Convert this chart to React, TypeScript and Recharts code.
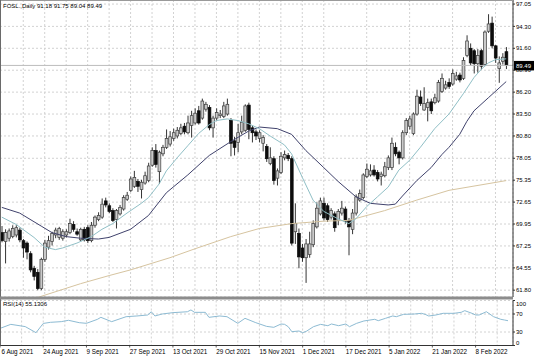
import React from "react";
import { ComposedChart, Bar, Line, XAxis, YAxis, CartesianGrid, ReferenceLine } from "recharts";

const FONT = "'Liberation Sans', Arial, sans-serif";

// tick labels
const dateLabels = [
  "6 Aug 2021", "24 Aug 2021", "9 Sep 2021", "27 Sep 2021", "13 Oct 2021", "29 Oct 2021",
  "15 Nov 2021", "1 Dec 2021", "17 Dec 2021", "5 Jan 2022", "21 Jan 2022", "8 Feb 2022",
];
const priceTicks = [61.8, 64.55, 67.25, 69.95, 72.65, 75.35, 78.05, 80.8, 83.5, 86.2, 88.9, 91.6, 94.3, 97.05];
const rsiTicks = [0, 30, 70, 100];

// daily candles
const opens = [
  68.9, 67.8, 68.2, 68.4, 68.6, 69.2, 67.9, 67.6, 66.3, 64.5,
  64.0, 62.0, 65.6, 67.1, 67.8, 68.6, 68.3, 68.2, 68.6, 68.9,
  69.9, 69.0, 68.0, 69.3, 69.5, 67.9, 69.8, 70.5, 70.8, 72.8,
  72.2, 71.6, 70.5, 71.2, 71.8, 73.0, 74.1, 74.6, 75.2, 74.2,
  75.0, 75.3, 77.2, 79.0, 76.4, 78.6, 79.4, 79.8, 80.5, 80.8,
  81.1, 82.0, 81.2, 82.1, 82.4, 83.9, 83.0, 84.1, 84.3, 81.8,
  83.0, 83.3, 83.2, 83.5, 82.7, 80.2, 80.0, 81.3, 81.5, 84.6,
  81.8, 81.3, 80.5, 79.9, 79.5, 77.4, 78.0, 75.6, 76.3, 78.1,
  78.4, 78.0, 69.0, 68.8, 67.0, 65.8, 66.2, 67.4, 69.6, 71.2,
  72.5, 72.2, 70.8, 71.2, 70.4, 71.3, 71.8, 70.4, 69.3, 71.3,
  72.9, 73.2, 75.8, 76.0, 76.6, 76.3, 75.8, 75.9, 76.9, 76.9,
  79.4, 78.8, 78.1, 81.2, 82.0, 81.1, 83.5, 85.6, 84.0, 84.3,
  85.0, 84.9, 85.1, 86.3, 86.7, 87.4, 87.2, 87.8, 88.3, 87.9,
  90.7, 91.6, 91.3, 89.7, 91.3, 89.6, 93.7, 94.7, 91.9, 89.1,
  90.0, 91.18,
];
const highs = [
  69.7, 69.3, 69.4, 69.8, 69.8, 69.5, 68.1, 67.8, 66.6, 64.8,
  64.4, 65.8, 68.0, 68.5, 69.0, 69.5, 69.6, 69.3, 69.3, 70.6,
  70.3, 69.4, 69.5, 69.6, 69.8, 70.2, 71.0, 71.4, 73.1, 73.2,
  72.5, 71.9, 71.8, 72.3, 73.5, 73.9, 75.8, 76.5, 75.5, 75.4,
  76.4, 77.5, 79.4, 79.8, 79.0, 79.7, 81.6, 81.4, 81.7, 81.9,
  82.3, 82.4, 83.3, 83.9, 84.2, 84.5, 85.4, 85.0, 84.6, 83.3,
  84.2, 84.0, 85.0, 85.4, 83.0, 80.7, 82.3, 83.3, 84.7, 84.9,
  82.1, 81.6, 81.5, 80.9, 79.8, 79.4, 78.3, 76.8, 78.8, 79.0,
  78.7, 78.3, 72.5, 69.4, 67.5, 68.1, 69.0, 70.4, 72.6, 73.2,
  73.2, 72.5, 71.9, 71.5, 71.8, 72.8, 72.1, 70.7, 71.8, 73.6,
  74.2, 76.2, 77.4, 77.3, 77.2, 76.6, 76.4, 77.6, 78.4, 80.6,
  80.0, 79.0, 81.5, 83.0, 83.3, 83.7, 86.5, 86.4, 86.8, 85.4,
  85.4, 86.0, 87.7, 88.5, 87.6, 87.9, 89.0, 88.7, 88.6, 90.5,
  93.2, 92.2, 91.5, 91.5, 91.5, 93.8, 95.8, 95.5, 92.0, 90.6,
  91.0, 91.75,
];
const lows = [
  67.7, 65.1, 67.8, 68.2, 68.3, 67.7, 65.8, 65.6, 64.0, 63.0,
  61.8, 61.8, 65.3, 66.8, 67.3, 68.2, 68.0, 67.9, 68.3, 68.7,
  69.0, 68.5, 67.8, 67.8, 67.6, 67.7, 69.5, 70.3, 70.6, 72.0,
  71.3, 70.2, 69.4, 71.0, 71.6, 72.8, 73.9, 74.4, 73.9, 73.1,
  74.8, 75.1, 77.0, 76.9, 74.9, 78.3, 79.2, 79.5, 80.2, 80.5,
  80.9, 81.0, 81.0, 80.6, 82.2, 82.2, 82.8, 83.8, 81.5, 80.6,
  82.7, 83.0, 83.0, 83.3, 78.3, 78.4, 78.8, 81.0, 81.3, 80.4,
  80.0, 80.3, 80.0, 78.9, 77.6, 77.2, 74.8, 74.7, 76.1, 77.8,
  77.7, 67.3, 67.5, 64.5, 65.3, 62.7, 65.8, 67.1, 69.4, 71.0,
  70.4, 70.2, 70.5, 69.0, 69.8, 71.0, 70.0, 66.1, 68.7, 71.0,
  72.7, 73.0, 75.6, 75.8, 75.8, 75.2, 74.7, 75.7, 76.6, 76.6,
  78.3, 77.3, 77.9, 80.9, 81.6, 80.9, 83.3, 84.5, 83.9, 82.6,
  83.5, 84.7, 84.9, 86.1, 86.5, 86.6, 87.0, 87.6, 87.4, 87.7,
  90.5, 89.5, 88.5, 88.6, 89.0, 89.4, 93.5, 91.6, 89.8, 87.35,
  89.6, 89.04,
];
const closes = [
  67.9, 68.9, 69.1, 69.4, 69.5, 68.0, 67.0, 66.5, 64.3, 63.5,
  62.0, 65.6, 67.6, 67.9, 68.8, 69.2, 69.4, 69.0, 69.0, 70.0,
  69.3, 68.7, 69.3, 68.0, 67.9, 69.8, 70.8, 71.0, 72.4, 72.3,
  71.5, 70.4, 71.6, 72.0, 73.2, 73.5, 75.5, 75.7, 74.6, 75.1,
  75.9, 77.1, 79.0, 77.3, 78.8, 79.4, 80.5, 80.7, 81.2, 81.5,
  81.8, 81.3, 82.4, 83.3, 83.6, 82.4, 85.1, 84.7, 81.8, 83.0,
  83.7, 83.5, 84.5, 84.7, 79.9, 79.4, 81.2, 82.5, 84.5, 81.6,
  81.2, 80.8, 81.2, 80.6, 78.0, 78.1, 75.3, 76.5, 78.3, 78.5,
  78.0, 67.6, 70.0, 65.9, 65.8, 67.5, 67.5, 70.0, 71.9, 72.8,
  70.7, 70.5, 71.6, 69.5, 71.5, 71.9, 70.3, 69.6, 71.3, 73.3,
  73.7, 76.0, 76.7, 76.5, 76.0, 75.5, 76.1, 77.0, 78.1, 79.9,
  78.6, 78.1, 81.2, 82.7, 82.9, 83.5, 85.7, 84.8, 84.8, 84.9,
  83.9, 85.5, 87.4, 87.9, 87.1, 86.9, 88.5, 88.2, 87.7, 90.1,
  92.5, 89.8, 89.7, 90.7, 89.4, 93.6, 94.6, 91.9, 90.4, 89.8,
  90.5, 89.49,
];

// moving averages and RSI, [bar, value] read at points along each line
const maFast: [number, number][] = [
  [0, 70.8], [4, 69.9], [9, 68.3], [12, 67.1], [15, 66.8], [17, 67.0], [21, 67.6], [25, 68.4],
  [28, 69.3], [31, 70.0], [35, 71.3], [39, 72.5], [41, 73.2], [44, 74.9], [46, 76.5], [49, 78.1],
  [52, 79.6], [55, 81.1], [58, 82.2], [60, 82.7], [63, 82.9], [66, 82.7], [69, 82.3], [72, 81.7],
  [75, 80.8], [79, 79.7], [81, 78.6], [84, 75.7], [87, 72.9], [90, 71.5], [94, 70.6], [97, 70.0],
  [99, 70.6], [102, 72.1], [105, 73.3], [108, 74.5], [111, 76.6], [114, 77.8], [117, 79.4],
  [121, 81.7], [125, 83.5], [129, 86.0], [132, 88.0], [134, 89.0], [136, 89.8], [138, 90.2], [141, 90.3],
];
const maSlow: [number, number][] = [
  [0, 72.0], [5, 71.3], [11, 69.7], [14, 68.9], [18, 68.4], [22, 68.2], [27, 68.1], [30, 68.3],
  [36, 69.3], [41, 71.0], [46, 73.8], [52, 76.0], [58, 78.4], [64, 80.1], [69, 81.4], [72, 81.9],
  [77, 81.7], [81, 81.0], [85, 79.0], [90, 76.9], [94, 75.2], [99, 73.3], [103, 72.5], [108, 72.3],
  [110, 72.4], [112, 73.4], [116, 75.3], [120, 76.9], [123, 78.5], [125, 79.4], [128, 81.0],
  [130, 82.6], [132, 83.9], [136, 85.5], [139, 86.7], [141, 87.5],
];
const ma200: [number, number][] = [
  [10, 60.9], [22, 62.6], [30, 63.6], [36, 64.3], [47, 65.8], [54, 66.9], [64, 68.4], [72, 69.4],
  [81, 70.0], [90, 70.3], [97, 70.4], [107, 71.6], [116, 72.9], [125, 74.1], [141, 75.3],
];
const rsi14: [number, number][] = [
  [0, 38], [3, 47], [7, 42], [10, 28.5], [12, 49], [14, 51.5], [17, 53], [19, 56], [22, 50.7],
  [24, 49.3], [27, 58], [28, 62.6], [31, 53], [35, 64], [38, 65.6], [41, 67.8], [42, 75], [43, 65.6],
  [45, 70], [48, 73], [52, 75], [53, 79], [54, 73.7], [57, 73.7], [58, 62.6], [61, 65.6], [63, 64],
  [66, 49.3], [68, 60.4], [71, 50.7], [74, 42.5], [76, 40.4], [78, 47.8], [79, 47], [80, 41.8],
  [81, 30.7], [83, 32.2], [84, 28.5], [85, 31.4], [87, 41.8], [89, 47], [91, 44], [92, 47.8],
  [94, 44], [96, 47.8], [97, 41.8], [99, 49.3], [101, 54.5], [104, 58.2], [105, 55.2], [107, 60.4],
  [109, 65.6], [110, 64], [112, 69.2], [115, 70], [117, 71.5], [118, 69.2], [119, 65.6], [121, 67.8],
  [123, 71.5], [126, 71.5], [128, 73.7], [129, 77.4], [131, 71.5], [132, 67.8], [133, 67.8],
  [135, 75.1], [137, 64], [139, 58.2], [140, 56.7], [141, 55.13],
];

const symbol = "FOSL.,Daily";
const lastBid = 89.49;
const rsiLast = "55.1306";

type Row = {
  idx: number; open: number; high: number; low: number; close: number;
  fast: number | null; slow: number | null; long: number | null; rsi: number | null;
};

const rows: Row[] = opens.map((o, i) => ({
  idx: i, open: o, high: highs[i], low: lows[i], close: closes[i],
  fast: null, slow: null, long: null, rsi: null,
}));
maFast.forEach(([i, v]) => { rows[i].fast = v; });
maSlow.forEach(([i, v]) => { rows[i].slow = v; });
ma200.forEach(([i, v]) => { rows[i].long = v; });
rsi14.forEach(([i, v]) => { rows[i].rsi = v; });

const gridTicks = rows.filter((r) => r.idx % 6 === 0).map((r) => r.idx);

const Candle = (props: any) => {
  const { x, y, width, height, payload } = props;
  if (!payload) return null;
  const top = Math.min(y, y + height);
  const bot = Math.max(y, y + height);
  const span = payload.high - payload.low || 1;
  const toY = (p: number) => top + ((payload.high - p) / span) * (bot - top);
  const cx = x + width / 2;
  const up = payload.close >= payload.open;
  const yo = toY(payload.open);
  const yc = toY(payload.close);
  const bt = Math.min(yo, yc);
  const bh = Math.max(Math.abs(yo - yc), 0.8);
  return (
    <g>
      <line x1={cx} x2={cx} y1={top} y2={bot} stroke="#1e1e1e" strokeWidth={0.9} />
      <rect x={cx - 1.4} y={bt} width={2.8} height={bh}
        fill={up ? "#cacaca" : "#0c0c0c"} stroke={up ? "#3c3c3c" : "#0c0c0c"} strokeWidth={0.7} />
    </g>
  );
};

const BidLabel = (props: any) => {
  const { x, y, width } = props.viewBox;
  const left = x + width + 1;
  return (
    <g>
      <rect x={left} y={y - 4.5} width={20} height={9.5} fill="#000" />
      <text x={left + 2} y={y + 2.3} fontSize={6} fontFamily={FONT} fill="#fff">{lastBid.toFixed(2)}</text>
    </g>
  );
};

const DateTick = (props: any) => {
  const { x, y, payload } = props;
  const i = payload.value as number;
  if (i % 12 !== 0) return <g />;
  return (
    <g>
      <line x1={x} x2={x} y1={y} y2={y + 2} stroke="#333" strokeWidth={0.8} />
      <text x={Math.max(x, 1.5)} y={y + 8.8} fontSize={6.3} fontFamily={FONT} fill="#000">{dateLabels[i / 12]}</text>
    </g>
  );
};

const RsiTick = (props: any) => {
  const { x, y, payload } = props;
  const v = payload.value as number;
  const dy = v === 100 ? 3 : v === 0 ? -3 : 0;
  return (
    <text x={x} y={y + dy + 2} fontSize={6} fontFamily={FONT} fill="#000">{String(v)}</text>
  );
};

export default function App() {
  return (
    <div style={{ position: "absolute", left: 0, top: 0, width: 536, height: 357, background: "#fff" }}>
      <div style={{ position: "absolute", left: 0, top: 0 }}>
        <ComposedChart width={536} height={297} data={rows} margin={{ top: 0, right: 0, left: 0, bottom: 0 }}
          barCategoryGap={0}>
          <CartesianGrid stroke="#d2d2d2" strokeDasharray="2 2" />
          <XAxis dataKey="idx" type="category" hide ticks={gridTicks} padding={{ left: 0, right: 5 }} />
          <YAxis orientation="right" width={23} domain={[60.96, 97.55]} allowDataOverflow ticks={priceTicks}
            tickFormatter={(v: number) => v.toFixed(2)} tick={{ fontSize: 6, fontFamily: FONT, fill: "#000" }}
            tickSize={2} tickMargin={1} stroke="#333" interval={0} />
          <ReferenceLine y={lastBid} stroke="#bdbdbd" strokeWidth={1} label={<BidLabel />} />
          <Line dataKey="long" stroke="#d6c4a0" strokeWidth={1} dot={false} activeDot={false} connectNulls isAnimationActive={false} />
          <Line dataKey="slow" stroke="#40426c" strokeWidth={1} dot={false} activeDot={false} connectNulls isAnimationActive={false} />
          <Line dataKey="fast" stroke="#90bfc6" strokeWidth={1} dot={false} activeDot={false} connectNulls isAnimationActive={false} />
          <Bar dataKey={(d: Row) => [d.low, d.high]} shape={(p: any) => <Candle {...p} />} activeBar={false} isAnimationActive={false} />
        </ComposedChart>
      </div>
      <div style={{ position: "absolute", left: 0, top: 297 }}>
        <ComposedChart width={536} height={60} data={rows} margin={{ top: 3.5, right: 0, left: 0, bottom: 0 }}>
          <CartesianGrid stroke="#d2d2d2" strokeDasharray="2 2" />
          <XAxis dataKey="idx" type="category" ticks={gridTicks} padding={{ left: 0, right: 5 }} height={11.5}
            tick={<DateTick />} tickSize={0} tickMargin={0} tickLine={false} stroke="#333" interval={0} />
          <YAxis orientation="right" width={23} domain={[0, 100]} ticks={rsiTicks} tick={<RsiTick />}
            tickSize={2} tickMargin={1} stroke="#333" interval={0} />
          <Line dataKey="rsi" stroke="#8dbbd3" strokeWidth={1} dot={false} activeDot={false} connectNulls isAnimationActive={false} />
        </ComposedChart>
      </div>
      <svg width={536} height={357} style={{ position: "absolute", left: 0, top: 0, pointerEvents: "none" }}>
        <line x1={0} x2={513} y1={0.5} y2={0.5} stroke="#9a9a9a" />
        <line x1={0.5} x2={0.5} y1={0} y2={345.5} stroke="#6a6a6a" />
        <rect x={0} y={296.5} width={513} height={3} fill="#8c8c8c" />
        <text x={3} y={8} fontSize={6} fontFamily={FONT} fill="#000">
          {`${symbol}  ${opens[opens.length - 1].toFixed(2)} ${highs[highs.length - 1].toFixed(2)} ${lows[lows.length - 1].toFixed(2)} ${closes[closes.length - 1].toFixed(2)}`}
        </text>
        <text x={3} y={306} fontSize={6} fontFamily={FONT} fill="#000">{`RSI(14) ${rsiLast}`}</text>
      </svg>
    </div>
  );
}
